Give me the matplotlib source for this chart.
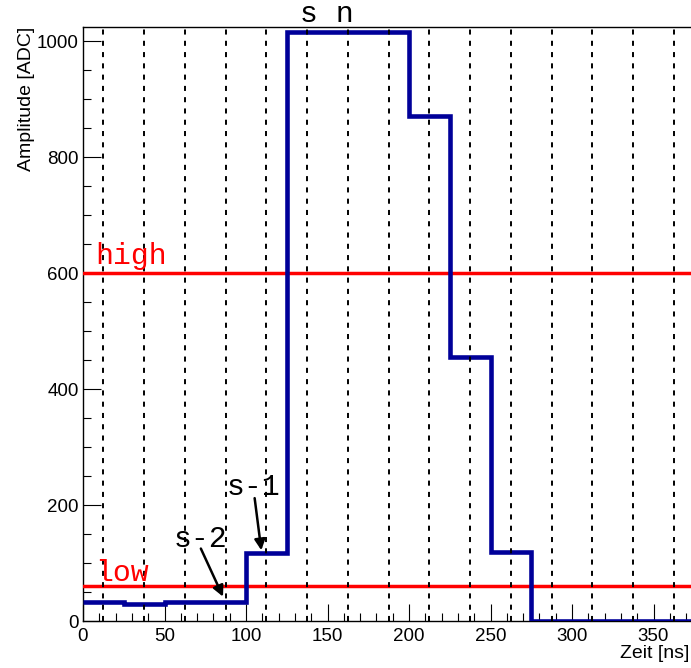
import matplotlib
matplotlib.use("Agg")
import matplotlib.pyplot as plt
from matplotlib.ticker import MultipleLocator
import numpy as np

# ---- data ----
bin_edges = [0, 25, 50, 75, 100, 125, 150, 175, 200, 225, 250, 275, 300, 325, 350, 375]
amplitudes = [32, 30, 32, 33, 117, 1017, 1017, 1017, 872, 456, 119, 0, 0, 0, 0]
grid_lines_x = [12.5, 37.5, 62.5, 87.5, 112.5, 137.5, 162.5, 187.5, 212.5,
                237.5, 262.5, 287.5, 312.5, 337.5, 362.5]
threshold_high = 600
threshold_low = 60
x_max = 373
y_max = 1025

plt.rcParams['font.family'] = ['Liberation Sans', 'DejaVu Sans']

W, H = 691, 668
fig = plt.figure(figsize=(W / 100, H / 100), dpi=100)
left, right, top, bottom = 83, 691, 27, 621
ax = fig.add_axes([left / W, (H - bottom) / H, (right - left) / W, (bottom - top) / H])

ax.set_xlim(0, x_max)
ax.set_ylim(0, y_max)

# dashed vertical lines
for gx in grid_lines_x:
    ax.axvline(gx, color='black', lw=1.4, ls=(0, (2.6, 3.2)), zorder=5)

# thresholds
ax.axhline(threshold_high, color='#ff0000', lw=2.5, zorder=3)
ax.axhline(threshold_low, color='#ff0000', lw=2.5, zorder=3)

# histogram
ax.stairs(amplitudes, bin_edges, baseline=None, color='#000099', lw=3.3, zorder=4)

mono = 'Liberation Mono'
fs = 21.5
ax.text(7.3, 616, 'high', color='#ff0000', fontsize=fs, family=mono, ha='left', va='baseline', zorder=6)
ax.text(7.3, 69, 'low', color='#ff0000', fontsize=fs, family=mono, ha='left', va='baseline', zorder=6)
ax.text(133.0, 1033, 's n', color='black', fontsize=fs, family=mono, ha='left', va='baseline', clip_on=False)
ax.text(88.3, 217, 's-1', color='black', fontsize=fs, family=mono, ha='left', va='baseline', zorder=6)
ax.text(55.8, 128, 's-2', color='black', fontsize=fs, family=mono, ha='left', va='baseline', zorder=6)

ax.annotate('', xy=(109.4, 122), xytext=(105.3, 212),
            arrowprops=dict(arrowstyle='-|>', color='black', lw=1.8, mutation_scale=16, shrinkA=0, shrinkB=0),
            zorder=7)
ax.annotate('', xy=(85.9, 42), xytext=(72.3, 125),
            arrowprops=dict(arrowstyle='-|>', color='black', lw=1.8, mutation_scale=16, shrinkA=0, shrinkB=0),
            zorder=7)

# axes styling
ax.spines['right'].set_visible(False)
for s in ['left', 'bottom', 'top']:
    ax.spines[s].set_linewidth(1.0)
ax.xaxis.set_major_locator(MultipleLocator(50))
ax.xaxis.set_minor_locator(MultipleLocator(10))
ax.yaxis.set_major_locator(MultipleLocator(200))
ax.yaxis.set_minor_locator(MultipleLocator(50))
ax.tick_params(which='both', direction='in', top=False, right=False, width=0.8)
ax.tick_params(which='major', length=12.6)
ax.tick_params(which='minor', length=5.8)
ax.tick_params(axis='x', which='major', labelsize=13.5, pad=5)
ax.tick_params(axis='y', which='major', labelsize=13.5, pad=3)

ax.set_ylabel('Amplitude [ADC]', fontsize=14, loc='top')
ax.yaxis.set_label_coords(-0.079, 1.0)
ax.set_xlabel('Zeit [ns]', fontsize=14, loc='right')
ax.xaxis.set_label_coords(0.997, -0.041)

fig.savefig('out.png', dpi=100)
